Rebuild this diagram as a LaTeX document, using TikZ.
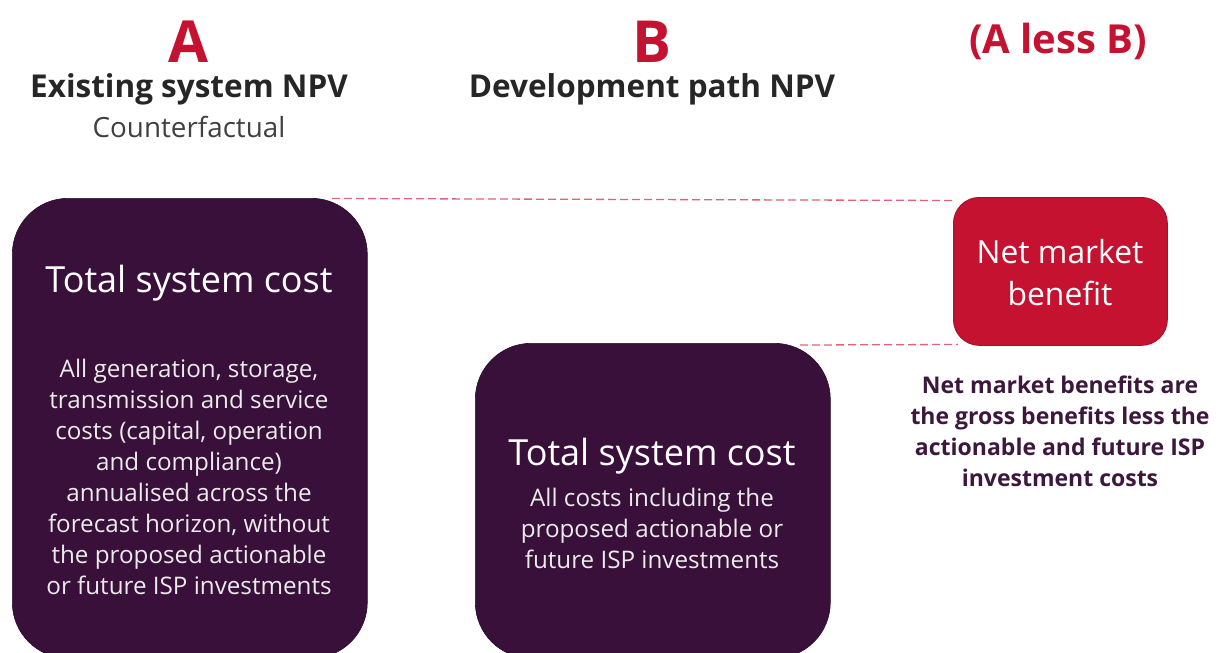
\documentclass[tikz,border=0pt]{standalone}
\usepackage{fontspec}
\setmainfont{Open Sans}
\usetikzlibrary{calc}
\definecolor{dpurple}{RGB}{56,16,58}
\definecolor{ared}{RGB}{196,18,48}
\definecolor{aredline}{RGB}{160,16,40}
\definecolor{dashred}{RGB}{224,100,120}
\definecolor{headgray}{RGB}{38,38,38}
\definecolor{subgray}{RGB}{64,64,64}
\definecolor{capcol}{RGB}{60,24,60}
\tikzset{
  letterlbl/.style={text=ared,font=\fontsize{58}{60}\selectfont\bfseries,inner sep=0pt},
  headlbl/.style={text=headgray,font=\fontsize{31.5}{34}\selectfont\bfseries,inner sep=0pt},
  sublbl/.style={text=subgray,font=\fontsize{27.8}{30}\selectfont,inner sep=0pt},
  costbox/.style={fill=dpurple,draw=dpurple!80!black,line width=0.6pt,rounded corners=56pt,inner sep=0pt,anchor=north west},
  redbox/.style={fill=ared,draw=aredline,line width=0.8pt,rounded corners=26pt,inner sep=0pt,anchor=north west},
  boxtitle/.style={text=white,font=\fontsize{36}{40}\selectfont,inner sep=0pt},
  boxbody/.style={text=white!92!black,font=\fontsize{24.2}{31}\selectfont,align=center,inner sep=0pt},
  redtext/.style={text=white,font=\fontsize{31.8}{42}\selectfont,align=center,inner sep=0pt},
  captext/.style={text=capcol,font=\fontsize{23}{31}\selectfont\bfseries,align=center,inner sep=0pt},
  guide/.style={draw=dashred,line width=1.3pt,dash pattern=on 8pt off 4pt}
}
\begin{document}
\begin{tikzpicture}[x=1pt,y=-1pt]
\useasboundingbox[fill=white] (0,0) rectangle (1221,653);
% headings
\node[letterlbl] (lA) at (189,42) {A};
\node[headlbl] (hA) at (189,89) {Existing system NPV};
\node[sublbl] (sA) at (189,127) {Counterfactual};
\node[letterlbl] (lB) at (652,42) {B};
\node[headlbl] (hB) at (652,89) {Development path NPV};
\node[text=ared,font=\fontsize{40}{44}\selectfont\bfseries,inner sep=0pt] (lAB) at (1058,41) {(A less B)};
% boxes
\node[costbox,minimum width=355pt,minimum height=460pt] (boxA) at (12,198) {};
\node[costbox,minimum width=355pt,minimum height=315pt] (boxB) at (475,343) {};
\node[redbox,minimum width=214pt,minimum height=148pt] (nmb) at (953,197) {};
% box A text
\node[boxtitle] (tA) at (189,283) {Total system cost};
\node[boxbody] (bA) at (189,477) {All generation, storage,\\transmission and service\\costs (capital, operation\\and compliance)\\annualised across the\\forecast horizon, without\\the proposed actionable\\or future ISP investments};
% box B text
\node[boxtitle] (tB) at (652,456) {Total system cost};
\node[boxbody] (bB) at (652,528) {All costs including the\\proposed actionable or\\future ISP investments};
% red box text
\node[redtext] (tN) at (1060,273) {Net market\\benefit};
\node[captext] (cap) at (1060,431) {Net market benefits are\\the gross benefits less the\\actionable and future ISP\\investment costs};
% dashed guides
\coordinate (g1s) at (332,198.5);
\coordinate (g1e) at (953,200.5);
\coordinate (g2s) at (800,345);
\coordinate (g2e) at (958,344.5);
\draw[guide] (g1s) -- (g1e);
\draw[guide] (g2s) -- (g2e);
\end{tikzpicture}
\end{document}
